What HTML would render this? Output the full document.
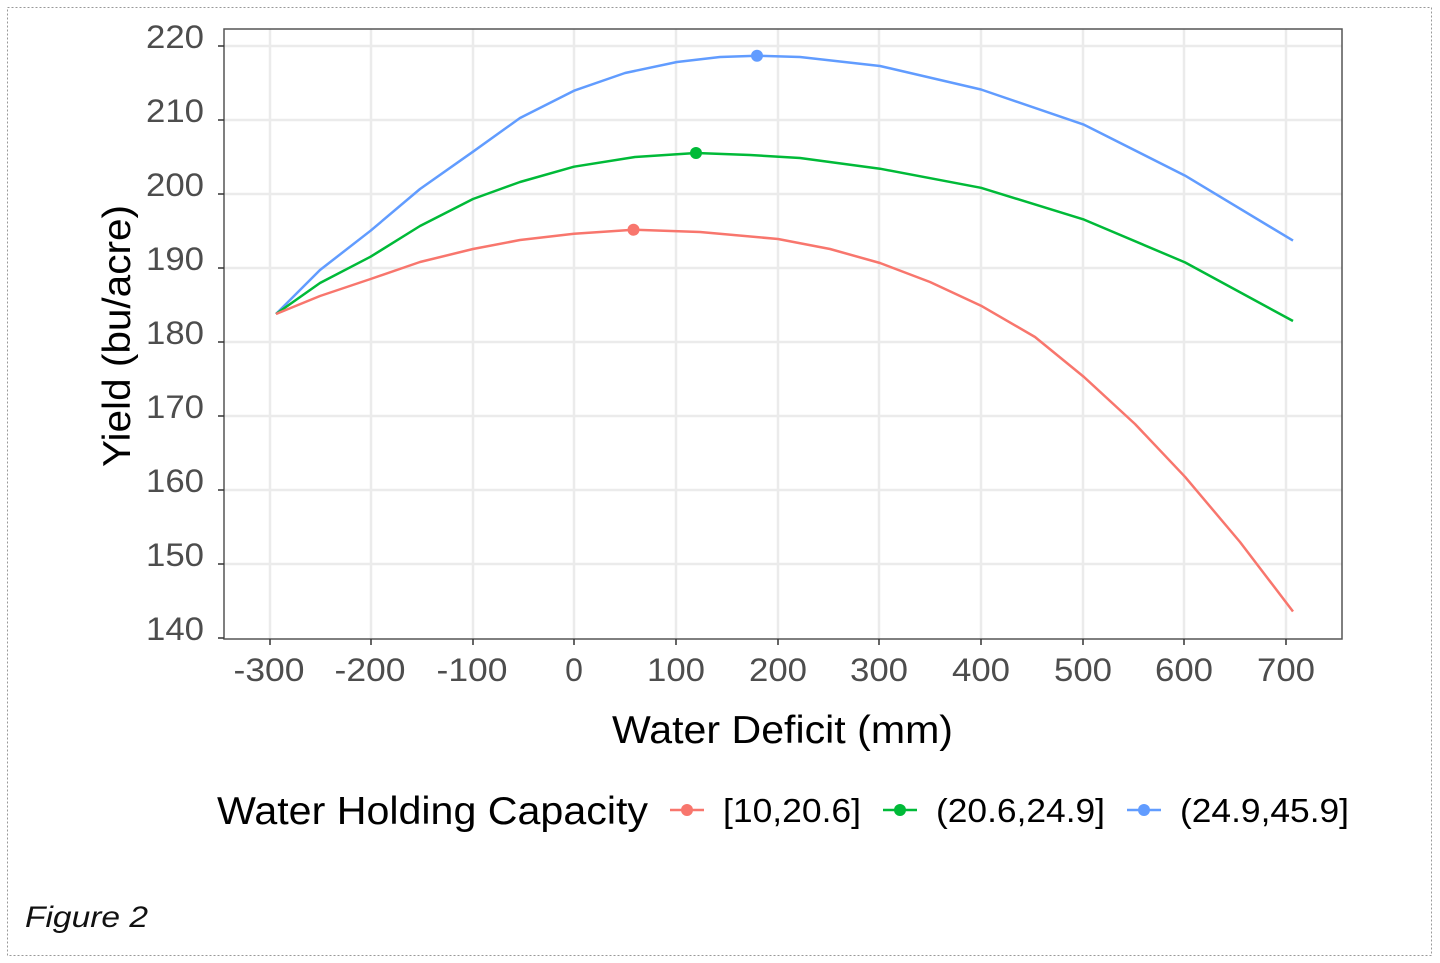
<!DOCTYPE html>
<html><head><style>
body{margin:0;background:#fff;}
svg{display:block;font-family:"Liberation Sans",sans-serif;}
</style></head><body>
<svg width="1440" height="963" viewBox="0 0 1440 963">
<rect x="7.5" y="7.5" width="1424" height="948" fill="#fff" stroke="#999" stroke-dasharray="2,2"/>
<g stroke="#ebebeb" stroke-width="2.5">
<line x1="224" x2="1342" y1="46" y2="46"/><line x1="224" x2="1342" y1="120" y2="120"/><line x1="224" x2="1342" y1="194" y2="194"/><line x1="224" x2="1342" y1="268" y2="268"/><line x1="224" x2="1342" y1="342" y2="342"/><line x1="224" x2="1342" y1="416" y2="416"/><line x1="224" x2="1342" y1="490" y2="490"/><line x1="224" x2="1342" y1="564" y2="564"/>
<line y1="29" y2="639" x1="270" x2="270"/><line y1="29" y2="639" x1="371" x2="371"/><line y1="29" y2="639" x1="473" x2="473"/><line y1="29" y2="639" x1="574" x2="574"/><line y1="29" y2="639" x1="676" x2="676"/><line y1="29" y2="639" x1="778" x2="778"/><line y1="29" y2="639" x1="879" x2="879"/><line y1="29" y2="639" x1="981" x2="981"/><line y1="29" y2="639" x1="1083" x2="1083"/><line y1="29" y2="639" x1="1184" x2="1184"/><line y1="29" y2="639" x1="1286" x2="1286"/>
</g>
<rect x="224" y="29" width="1118" height="610" fill="none" stroke="#555" stroke-width="1.5"/>
<g stroke="#333" stroke-width="1.5">
<line x1="218" x2="224" y1="46" y2="46"/><line x1="218" x2="224" y1="120" y2="120"/><line x1="218" x2="224" y1="194" y2="194"/><line x1="218" x2="224" y1="268" y2="268"/><line x1="218" x2="224" y1="342" y2="342"/><line x1="218" x2="224" y1="416" y2="416"/><line x1="218" x2="224" y1="490" y2="490"/><line x1="218" x2="224" y1="564" y2="564"/><line x1="218" x2="224" y1="638" y2="638"/>
<line y1="639" y2="645" x1="270" x2="270"/><line y1="639" y2="645" x1="371" x2="371"/><line y1="639" y2="645" x1="473" x2="473"/><line y1="639" y2="645" x1="574" x2="574"/><line y1="639" y2="645" x1="676" x2="676"/><line y1="639" y2="645" x1="778" x2="778"/><line y1="639" y2="645" x1="879" x2="879"/><line y1="639" y2="645" x1="981" x2="981"/><line y1="639" y2="645" x1="1083" x2="1083"/><line y1="639" y2="645" x1="1184" x2="1184"/><line y1="639" y2="645" x1="1286" x2="1286"/>
</g>
<g font-size="32" fill="#4d4d4d" text-anchor="end">
<text x="204" y="48" textLength="58" lengthAdjust="spacingAndGlyphs">220</text><text x="204" y="122" textLength="58" lengthAdjust="spacingAndGlyphs">210</text><text x="204" y="196" textLength="58" lengthAdjust="spacingAndGlyphs">200</text><text x="204" y="270" textLength="58" lengthAdjust="spacingAndGlyphs">190</text><text x="204" y="344" textLength="58" lengthAdjust="spacingAndGlyphs">180</text><text x="204" y="418" textLength="58" lengthAdjust="spacingAndGlyphs">170</text><text x="204" y="492" textLength="58" lengthAdjust="spacingAndGlyphs">160</text><text x="204" y="566" textLength="58" lengthAdjust="spacingAndGlyphs">150</text><text x="204" y="640" textLength="58" lengthAdjust="spacingAndGlyphs">140</text>
</g>
<g font-size="32" fill="#4d4d4d" text-anchor="middle">
<text x="269" y="681" textLength="71" lengthAdjust="spacingAndGlyphs">-300</text><text x="370" y="681" textLength="71" lengthAdjust="spacingAndGlyphs">-200</text><text x="472" y="681" textLength="71" lengthAdjust="spacingAndGlyphs">-100</text><text x="574" y="681">0</text><text x="676" y="681" textLength="58" lengthAdjust="spacingAndGlyphs">100</text><text x="778" y="681" textLength="58" lengthAdjust="spacingAndGlyphs">200</text><text x="879" y="681" textLength="58" lengthAdjust="spacingAndGlyphs">300</text><text x="981" y="681" textLength="58" lengthAdjust="spacingAndGlyphs">400</text><text x="1083" y="681" textLength="58" lengthAdjust="spacingAndGlyphs">500</text><text x="1184" y="681" textLength="58" lengthAdjust="spacingAndGlyphs">600</text><text x="1286" y="681" textLength="58" lengthAdjust="spacingAndGlyphs">700</text>
</g>
<text x="612" y="743" font-size="39" fill="#000" textLength="341" lengthAdjust="spacingAndGlyphs">Water Deficit (mm)</text>
<text transform="translate(130,467) rotate(-90)" font-size="39" fill="#000" textLength="262" lengthAdjust="spacingAndGlyphs">Yield (bu/acre)</text>
<g fill="none" stroke-width="2.5" stroke-linejoin="round">
<polyline stroke="#619cff" points="276,314 320,270 370.6,230.7 420,189 473,151.7 520,118 574,90.7 625,73 677,62 720,57 757,55.7 800,57 880,66 981,89.5 1084,124.7 1185,175.6 1293,240.6"/>
<polyline stroke="#00ba38" points="276,314 320,283 370.6,256.7 420,226 473,199 520,182 574,166.7 635,157 696,153 750,155 800,158 880,168.7 981,187.8 1084,219.6 1185,262.4 1293,321"/>
<polyline stroke="#f8766d" points="276,314 320,296 370.6,279 420,262 473,249 520,240 574,233.7 633.5,229.7 700,232 778,239 830,249 880,263 930,282 981,305.7 1035,337 1084,377 1135,424 1185,476.8 1240,542 1293,611.5"/>
</g>
<circle cx="757" cy="55.7" r="6" fill="#619cff"/>
<circle cx="696" cy="153" r="6" fill="#00ba38"/>
<circle cx="633.5" cy="229.7" r="6" fill="#f8766d"/>
<text x="217" y="824" font-size="39" fill="#000" textLength="431" lengthAdjust="spacingAndGlyphs">Water Holding Capacity</text>
<line x1="670" x2="704" y1="810" y2="810" stroke="#f8766d" stroke-width="2.5"/><circle cx="687" cy="810" r="6" fill="#f8766d"/>
<text x="723" y="822" font-size="33" fill="#000" textLength="138" lengthAdjust="spacingAndGlyphs">[10,20.6]</text>
<line x1="883" x2="917" y1="810" y2="810" stroke="#00ba38" stroke-width="2.5"/><circle cx="900" cy="810" r="6" fill="#00ba38"/>
<text x="936" y="822" font-size="33" fill="#000" textLength="169" lengthAdjust="spacingAndGlyphs">(20.6,24.9]</text>
<line x1="1127" x2="1161" y1="810" y2="810" stroke="#619cff" stroke-width="2.5"/><circle cx="1144" cy="810" r="6" fill="#619cff"/>
<text x="1180" y="822" font-size="33" fill="#000" textLength="169" lengthAdjust="spacingAndGlyphs">(24.9,45.9]</text>
<text x="25" y="927" font-size="30" font-style="italic" fill="#111" textLength="123" lengthAdjust="spacingAndGlyphs">Figure 2</text>
</svg>
</body></html>
